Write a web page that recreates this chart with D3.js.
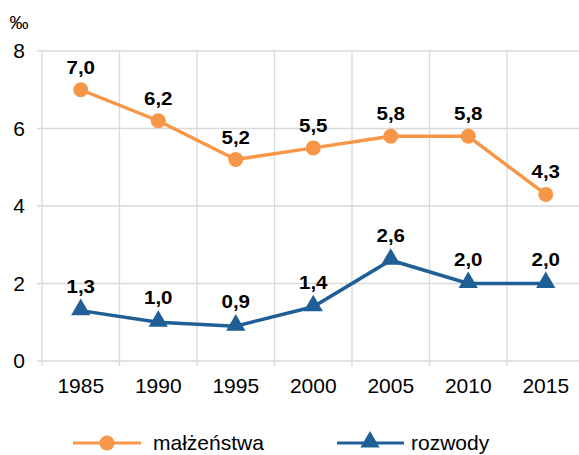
<!DOCTYPE html>
<html>
<head>
<meta charset="utf-8">
<script src="https://cdn.jsdelivr.net/npm/d3@7"></script>
<style>
  body { margin: 0; background: #fff; }
  text { font-family: "Liberation Sans", Arial, sans-serif; fill: #000; }
</style>
</head>
<body>
<svg id="chart" width="579" height="455"></svg>
<script>
const years = ['1985', '1990', '1995', '2000', '2005', '2010', '2015'];
const marriages = [7.0, 6.2, 5.2, 5.5, 5.8, 5.8, 4.3];
const divorces = [1.3, 1.0, 0.9, 1.4, 2.6, 2.0, 2.0];
const yTicks = [0, 2, 4, 6, 8];

const orange = '#f79646';
const blue = '#1f5f96';
const grid = '#d9d9d9';

const svg = d3.select('#chart');
const plotLeft = 42, plotRight = 584.5, plotTop = 51, plotBottom = 361;

const x = d3.scaleBand().domain(years).range([plotLeft, plotRight]);
const y = d3.scaleLinear().domain([0, 8]).range([plotBottom, plotTop]);
const fmt = (v) => d3.format('.1f')(v).replace('.', ',');

// horizontal gridlines + left tick marks
svg.append('g')
    .selectAll('line')
    .data(yTicks)
    .join('line')
    .attr('x1', plotLeft - 5).attr('x2', 579)
    .attr('y1', d => y(d)).attr('y2', d => y(d))
    .attr('stroke', grid).attr('stroke-width', 1.3);

// vertical gridlines at category boundaries, with ticks below the axis
const bounds = years.map(d => x(d)).concat([x(years[years.length - 1]) + x.bandwidth()]);
svg.append('g')
    .selectAll('line')
    .data(bounds)
    .join('line')
    .attr('x1', d => d).attr('x2', d => d)
    .attr('y1', plotTop).attr('y2', plotBottom + 5)
    .attr('stroke', grid).attr('stroke-width', 1.3);

// y labels
svg.append('g')
    .selectAll('text')
    .data(yTicks)
    .join('text')
    .attr('x', 19).attr('y', d => y(d) + 7)
    .attr('text-anchor', 'middle')
    .attr('font-size', 21)
    .text(d => d);

svg.append('text')
    .attr('x', 19).attr('y', 29)
    .attr('text-anchor', 'middle')
    .attr('font-size', 19)
    .text('‰');

// x labels
svg.append('g')
    .selectAll('text')
    .data(years)
    .join('text')
    .attr('x', d => x(d) + x.bandwidth() / 2)
    .attr('y', 393)
    .attr('text-anchor', 'middle')
    .attr('font-size', 21)
    .text(d => d);

const cx = (d, i) => x(years[i]) + x.bandwidth() / 2;
const line = d3.line().x((d, i) => cx(d, i)).y(d => y(d));
const tri = d3.symbol().type(d3.symbolTriangle).size(160);

function series(values, color, marker) {
    const g = svg.append('g');
    g.append('path')
        .datum(values)
        .attr('d', line)
        .attr('fill', 'none')
        .attr('stroke', color)
        .attr('stroke-width', 3.5);
    if (marker === 'circle') {
        g.selectAll('circle')
            .data(values)
            .join('circle')
            .attr('cx', cx).attr('cy', d => y(d))
            .attr('r', 7.5)
            .attr('fill', color);
    } else {
        g.selectAll('path.m')
            .data(values)
            .join('path')
            .attr('class', 'm')
            .attr('d', tri)
            .attr('transform', (d, i) => `translate(${cx(d, i)},${y(d) - 1})`)
            .attr('fill', color);
    }
    const off = marker === 'circle' ? 16 : 18;
    g.selectAll('text')
        .data(values)
        .join('text')
        .attr('transform', (d, i) => `translate(${cx(d, i)},${y(d) - off}) scale(1.08,1)`)
        .attr('text-anchor', 'middle')
        .attr('font-size', 19)
        .attr('font-weight', 'bold')
        .text(fmt);
}

series(marriages, orange, 'circle');
series(divorces, blue, 'triangle');

// legend
const lg = svg.append('g');
lg.append('line').attr('x1', 73).attr('x2', 141).attr('y1', 443).attr('y2', 443)
    .attr('stroke', orange).attr('stroke-width', 3);
lg.append('circle').attr('cx', 107).attr('cy', 443).attr('r', 7.5).attr('fill', orange);
lg.append('text').attr('x', 153).attr('y', 450).attr('font-size', 21).text('małżeństwa');

lg.append('line').attr('x1', 337).attr('x2', 404).attr('y1', 443).attr('y2', 443)
    .attr('stroke', blue).attr('stroke-width', 3);
lg.append('path').attr('d', tri).attr('transform', 'translate(370,442)').attr('fill', blue);
lg.append('text').attr('x', 411).attr('y', 450).attr('font-size', 21).text('rozwody');
</script>
</body>
</html>
